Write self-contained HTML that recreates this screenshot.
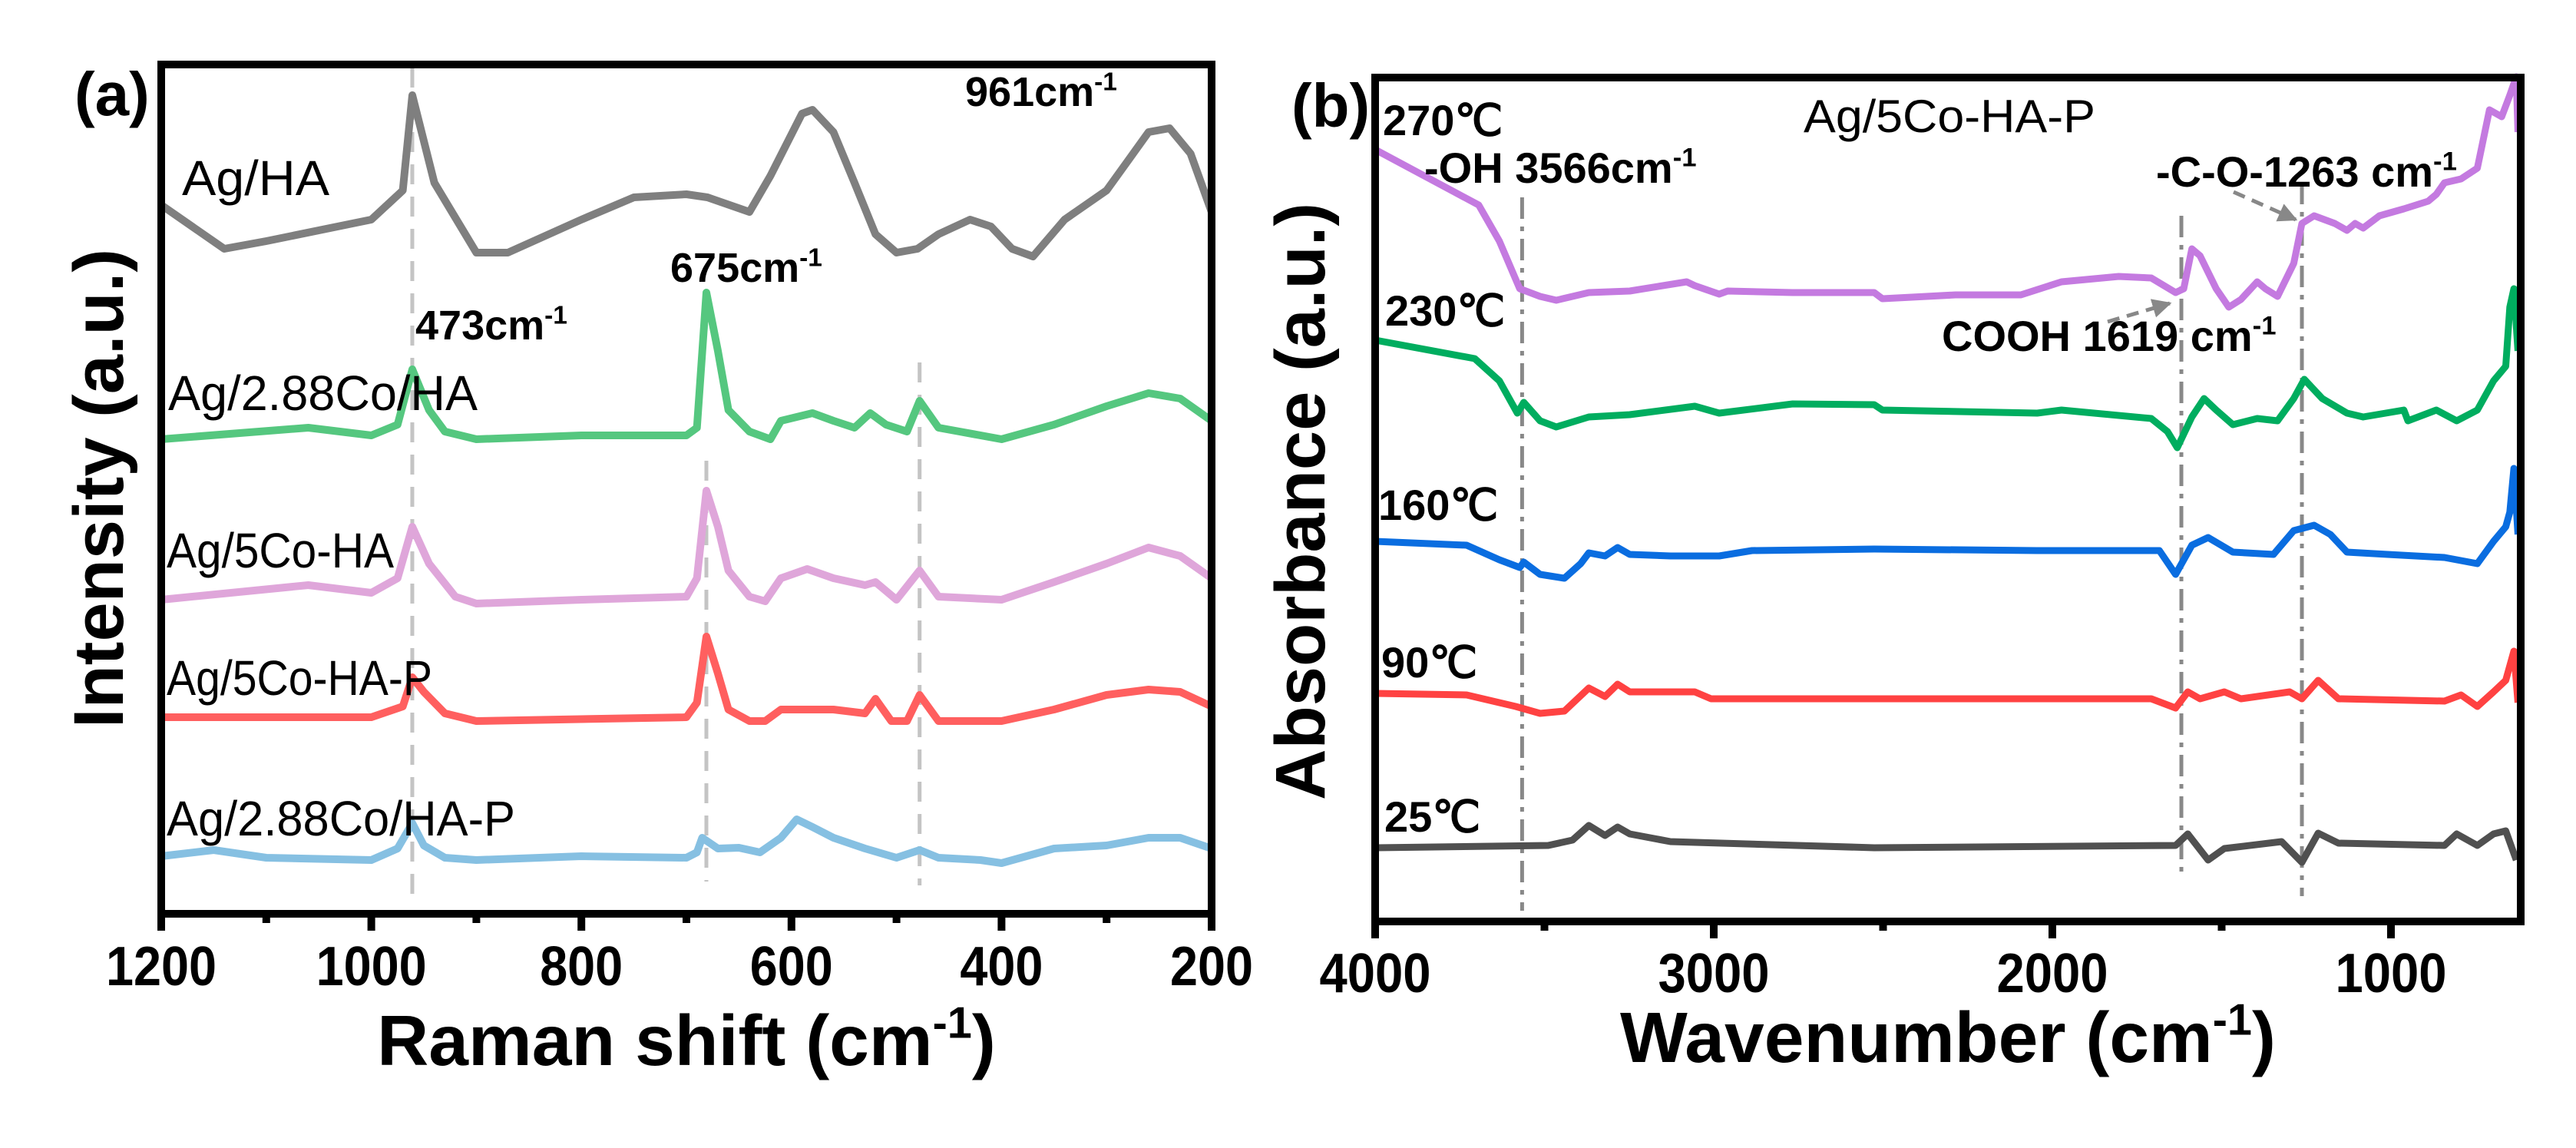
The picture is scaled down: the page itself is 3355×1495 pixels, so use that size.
<!DOCTYPE html>
<html><head><meta charset="utf-8"><style>
html,body{margin:0;padding:0;background:#fff;}
svg{display:block;font-family:"Liberation Sans",Arial,sans-serif;}
</style></head><body>
<svg id="fig" width="3355" height="1495" viewBox="0 0 3355 1495" xmlns="http://www.w3.org/2000/svg">
<rect width="3355" height="1495" fill="#fff"/>
<g id="pa"></g>
<g id="pb"></g>
</svg>
<script>
// ---------- Panel (a) Raman data ----------
const ramanTicks = [1200, 1000, 800, 600, 400, 200];
const ramanMinor = [1100, 900, 700, 500, 300];
const ramanNames = ["Ag/HA", "Ag/2.88Co/HA", "Ag/5Co-HA", "Ag/5Co-HA-P", "Ag/2.88Co/HA-P"];
const agHA_x = [1200,1140,1100,1000,970,961,940,900,870,800,750,700,680,640,620,590,580,560,540,520,500,480,460,430,410,390,370,340,300,280,260,240,220,200];
const agHA_y = [923,866,876,904,942,1066,952,861,861,904,933,937,933,914,961,1042,1047,1018,952,885,861,866,885,904,895,866,856,904,942,980,1018,1023,990,914];
const co288_x = [1200,1060,1000,975,961,945,930,900,800,700,690,681,670,660,640,620,610,580,560,540,525,510,490,478,460,440,400,350,300,260,230,200];
const co288_y = [618,633,623,637,709,656,628,618,623,623,633,809,733,656,628,618,642,652,642,633,652,637,628,668,633,628,618,637,661,678,671,642];
const co5_x = [1200,1060,1000,975,961,945,920,900,800,700,690,681,670,660,640,625,610,585,560,530,520,500,478,460,400,350,300,260,230,200];
const co5_y = [409,428,418,437,504,456,413,404,409,413,437,551,504,447,413,407,437,449,437,428,432,409,447,413,409,432,456,477,466,437];
const co5P_x = [1200,1000,970,961,950,930,900,700,690,681,670,660,640,625,610,560,530,520,505,490,478,460,400,350,300,260,230,200];
const co5P_y = [256,256,270,308,289,261,251,256,275,361,313,266,251,251,266,266,261,280,251,251,285,251,251,266,285,292,289,270];
const co288P_x = [1200,1150,1100,1000,975,961,950,930,900,800,700,690,685,670,650,630,610,595,580,560,530,500,478,460,420,400,350,300,260,230,200];
const co288P_y = [75,83,73,70,85,118,89,73,70,75,73,80,99,85,86,80,99,123,113,99,85,73,83,73,70,66,85,89,99,99,85];
const ramanColors = ["#7f7f7f","#55c77f","#dfa6da","#ff5f5f","#86c0e2"];

// ---------- Panel (b) FTIR data ----------
const ftirTicks = [4000, 3000, 2000, 1000];
const ftirMinor = [3500, 2500, 1500];
const ftirNames = ["270℃","230℃","160℃","90℃","25℃"];
const t270_x = [3999,3694,3633,3573,3513,3465,3369,3248,3080,3056,2984,2959,2767,2526,2502,2286,2093,1973,1804,1708,1636,1612,1588,1564,1516,1479,1443,1395,1371,1335,1287,1263,1227,1166,1130,1106,1082,1034,962,890,866,842,793,745,709,673,649,630,625];
const t270_y = [1005,933,886,824,814,809,819,821,833,828,817,821,819,819,811,816,816,833,840,838,819,824,876,867,824,800,810,833,824,814,857,909,919,909,900,909,903,919,928,938,947,962,967,981,1057,1048,1076,1100,1028];
const t230_x = [3999,3706,3633,3580,3561,3513,3465,3369,3248,3056,2984,2767,2526,2502,2045,1973,1708,1660,1631,1588,1552,1516,1467,1395,1335,1287,1256,1203,1130,1082,962,950,866,806,745,697,661,649,637,625];
const t230_y = [757,733,704,662,676,652,644,657,660,671,662,674,673,666,662,666,655,638,617,657,681,666,647,655,652,681,706,681,662,657,666,652,666,652,666,704,723,800,824,743];
const t160_x = [3999,3730,3633,3573,3561,3513,3441,3393,3369,3321,3284,3248,3128,2984,2887,2526,2045,1684,1636,1588,1540,1467,1347,1287,1227,1179,1130,1010,842,745,697,661,649,637,625];
const t160_y = [495,490,471,461,468,452,447,466,480,476,487,478,476,476,483,485,483,483,452,490,500,481,478,509,516,504,481,478,474,466,495,514,533,590,504];
const t90_x = [3999,3730,3585,3513,3441,3369,3321,3284,3248,3056,3008,2767,1708,1636,1600,1564,1492,1443,1299,1263,1215,1155,842,793,745,697,661,637,625];
const t90_y = [297,295,280,271,274,304,293,309,299,299,290,290,290,278,299,290,299,290,299,290,314,290,287,295,280,299,314,352,285];
const t25_x = [3999,3489,3417,3369,3321,3284,3248,3128,2526,1636,1600,1540,1492,1323,1263,1215,1155,842,806,745,697,661,630];
const t25_y = [96,99,106,125,112,123,114,104,96,99,114,80,95,104,77,115,102,99,114,99,114,118,80];
const ftirColors = ["#c47ae0","#00ad5f","#0a6de0","#ff4242","#505050"];

const NS = "http://www.w3.org/2000/svg";
function mk(tag, attrs, parent){ const e=document.createElementNS(NS,tag); for(const k in attrs) e.setAttribute(k,attrs[k]); parent.appendChild(e); return e; }
function txt(parent, x, y, s, size, weight, anchor, len){
  const t = mk("text",{x:x,y:y,"font-size":size,"font-weight":weight||"normal","text-anchor":anchor||"start",fill:"#000"},parent);
  if(len){ t.setAttribute("textLength",len); t.setAttribute("lengthAdjust","spacingAndGlyphs"); }
  t.textContent = s; return t;
}
function supText(parent, x, y, main, size, anchor, tail, len){
  const t = mk("text",{x:x,y:y,"font-size":size,"font-weight":"bold","text-anchor":anchor||"start",fill:"#000"},parent);
  const a = document.createElementNS(NS,"tspan"); a.textContent = main; t.appendChild(a);
  const b = document.createElementNS(NS,"tspan"); b.setAttribute("dy",-size*0.38); b.setAttribute("font-size",size*0.62); b.textContent="-1"; t.appendChild(b);
  if(tail){ const c=document.createElementNS(NS,"tspan"); c.setAttribute("dy",size*0.38); c.textContent=tail; t.appendChild(c); }
  return t;
}

// ---------- Panel (a) ----------
const pa = document.getElementById("pa");
const aL=210, aR=1578, aT=84, aB=1190;
const xa = w => aL + (1200 - w) * (aR - aL) / 1000;
const ya = v => aB - v;

// reference dashed lines
[[961,aT+4,aB-10],[681,600,1148],[478,472,1153]].forEach(function(r){
  const l = mk("line",{x1:xa(r[0]),x2:xa(r[0]),y1:r[1],y2:r[2],stroke:"#c4c4c4","stroke-width":5,"stroke-dasharray":"26,16"},pa);
  
  
});
const ramanXs=[agHA_x,co288_x,co5_x,co5P_x,co288P_x], ramanYs=[agHA_y,co288_y,co5_y,co5P_y,co288P_y];
ramanXs.forEach(function(xs,i){
  const d = xs.map((w,j)=>(j?"L":"M")+xa(w).toFixed(1)+","+ya(ramanYs[i][j]).toFixed(1)).join(" ");
  const p = mk("path",{d:d,fill:"none",stroke:ramanColors[i],"stroke-width":10,"stroke-linejoin":"round"},pa);
  
  
});
// frame
const fa = mk("rect",{x:aL,y:aT,width:aR-aL,height:aB-aT,fill:"none",stroke:"#000","stroke-width":10},pa);


ramanTicks.forEach(function(w){
  const l=mk("line",{x1:xa(w),x2:xa(w),y1:aB,y2:aB+22,stroke:"#000","stroke-width":10},pa);
  
  
  const t=txt(pa,xa(w),1283,String(w),72,"bold","middle",String(w).length*36);
  
  
});
ramanMinor.forEach(function(w){
  const l=mk("line",{x1:xa(w),x2:xa(w),y1:aB,y2:aB+12,stroke:"#000","stroke-width":10},pa);
  
  
});
// labels
const ramanLab = [[237,254,192],[219,534,403],[217,739,296],[217,905,346],[217,1088,454]];
ramanNames.forEach(function(n,i){
  const t=txt(pa,ramanLab[i][0],ramanLab[i][1],n,64,"normal","start",ramanLab[i][2]);
  
  
});
let s;
s=supText(pa,1257,138,"961cm",54);  
s=supText(pa,873,367,"675cm",54);  
s=supText(pa,541,442,"473cm",54);  
s=txt(pa,97,150,"(a)",80,"bold","start");  
s=supText(pa,894,1387,"Raman shift (cm",93,"middle",")");  
s=txt(pa,0,0,"Intensity (a.u.)",92,"bold","middle",624); s.setAttribute("transform","translate(160,636) rotate(-90)");
 

// ---------- Panel (b) ----------
const pb = document.getElementById("pb");
const bL=1791, bR=3283, bT=101, bB=1200;
const xb = w => bL + (4000 - w) * 0.441;
const yb = v => bB - v;
[[3566,257,1186],[1619,281,1139],[1263,238,1167]].forEach(function(r){
  const l=mk("line",{x1:xb(r[0]),x2:xb(r[0]),y1:r[1],y2:r[2],stroke:"#888","stroke-width":5,"stroke-dasharray":"28,10,6,10"},pb);
  
  
});
const ftirXs=[t270_x,t230_x,t160_x,t90_x,t25_x], ftirYs=[t270_y,t230_y,t160_y,t90_y,t25_y];
ftirXs.forEach(function(xs,i){
  const d = xs.map((w,j)=>(j?"L":"M")+xb(w).toFixed(1)+","+yb(ftirYs[i][j]).toFixed(1)).join(" ");
  const p=mk("path",{d:d,fill:"none",stroke:ftirColors[i],"stroke-width":9,"stroke-linejoin":"round"},pb);
  
  
});
const fb=mk("rect",{x:bL,y:bT,width:bR-bL,height:bB-bT,fill:"none",stroke:"#000","stroke-width":10},pb);


ftirTicks.forEach(function(w){
  const l=mk("line",{x1:xb(w),x2:xb(w),y1:bB,y2:bB+22,stroke:"#000","stroke-width":10},pb);
  
  
  const t=txt(pb,xb(w),1292,String(w),72,"bold","middle",145);
  
  
});
ftirMinor.forEach(function(w){
  const l=mk("line",{x1:xb(w),x2:xb(w),y1:bB,y2:bB+12,stroke:"#000","stroke-width":10},pb);
  
  
});
const ftirLab=[[1801,176],[1804,424],[1795,677],[1799,882],[1803,1083]];
ftirNames.forEach(function(n,i){
  const t=txt(pb,ftirLab[i][0],ftirLab[i][1],n,56,"bold","start");
  
  
});
s=txt(pb,2349,172,"Ag/5Co-HA-P",60,"normal","start",380);  
s=supText(pb,1855,238,"-OH 3566cm",56);  
s=supText(pb,2808,243,"-C-O-1263 cm",56);  
s=supText(pb,2529,457,"COOH 1619 cm",56);  
const defs=mk("defs",{},document.getElementById("fig"));
const mkr=mk("marker",{id:"ah",viewBox:"0 0 10 10",refX:"9",refY:"5",markerWidth:"5",markerHeight:"5",orient:"auto"},defs);
mk("path",{d:"M0,0 L10,5 L0,10 z",fill:"#888"},mkr);
s=mk("line",{x1:2909,y1:250,x2:2990,y2:286,stroke:"#888","stroke-width":5,"stroke-dasharray":"16,10","marker-end":"url(#ah)"},pb);
 
s=mk("line",{x1:2745,y1:419,x2:2826,y2:395,stroke:"#888","stroke-width":5,"stroke-dasharray":"16,10","marker-end":"url(#ah)"},pb);
 
s=txt(pb,1682,165,"(b)",80,"bold","start");  
s=supText(pb,2537,1383,"Wavenumber (cm",93,"middle",")");  
s=txt(pb,0,0,"Absorbance (a.u.)",92,"bold","middle",778); s.setAttribute("transform","translate(1725,653) rotate(-90)");
 
</script>
</body></html>
